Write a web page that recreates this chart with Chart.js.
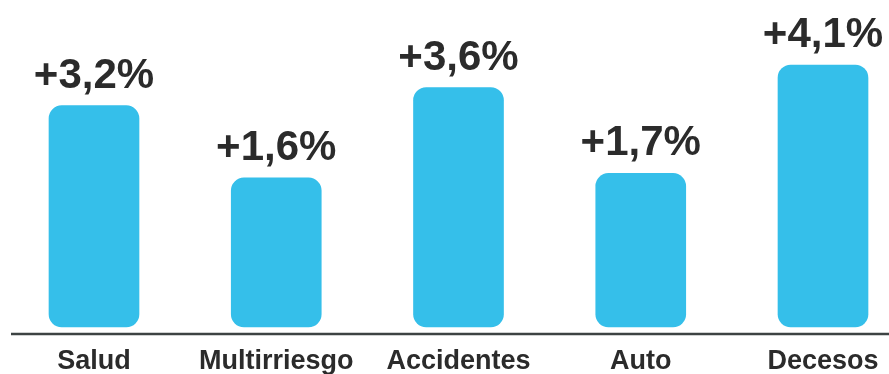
<!DOCTYPE html>
<html>
<head>
<meta charset="utf-8">
<script src="https://cdn.jsdelivr.net/npm/chart.js@4.4.1/dist/chart.umd.min.js"></script>
<style>
    html, body { margin: 0; padding: 0; background: #ffffff; }
    #wrap { width: 889px; height: 374px; position: relative; }
</style>
</head>
<body>
<div id="wrap"><canvas id="ramos"></canvas></div>
<script>
// Ramos y crecimiento de primas (%)
const categories = ['Salud', 'Multirriesgo', 'Accidentes', 'Auto', 'Decesos'];
const growth = [3.2, 1.6, 3.6, 1.7, 4.1];

const barColor = '#35bfea';
const textColor = '#2b2b2b';

// formato español: coma decimal y signo delante
function formatPct(v) {
    return '+' + v.toFixed(1).replace('.', ',') + '%';
}

// etiquetas de valor encima de cada barra
const valueLabels = {
    id: 'valueLabels',
    afterDatasetsDraw(chart) {
        const ctx = chart.ctx;
        const meta = chart.getDatasetMeta(0);
        ctx.save();
        ctx.font = 'bold 42px "Liberation Sans", Arial, sans-serif';
        ctx.fillStyle = textColor;
        ctx.textAlign = 'center';
        ctx.textBaseline = 'alphabetic';
        meta.data.forEach((bar, i) => {
            ctx.fillText(formatPct(growth[i]), bar.x, bar.y - 18);
        });
        ctx.restore();
    }
};

// línea base a todo lo ancho
const baseLine = {
    id: 'baseLine',
    afterDraw(chart) {
        const ctx = chart.ctx;
        const y = chart.chartArea.bottom + 7;
        ctx.save();
        ctx.strokeStyle = '#3d4343';
        ctx.lineWidth = 2.5;
        ctx.beginPath();
        ctx.moveTo(11, y);
        ctx.lineTo(chart.width, y);
        ctx.stroke();
        ctx.restore();
    }
};

const ctx = document.getElementById('ramos').getContext('2d');
new Chart(ctx, {
    type: 'bar',
    data: {
        labels: categories,
        datasets: [{
            data: growth,
            backgroundColor: barColor,
            borderRadius: 13,
            borderSkipped: false,
            barThickness: 90,
            base: -1.7,
            clip: false
        }]
    },
    options: {
        responsive: true,
        maintainAspectRatio: false,
        animation: false,
        layout: {
            padding: { left: 94, right: 66, top: 0, bottom: 0 }
        },
        plugins: {
            legend: { display: false },
            tooltip: { enabled: false }
        },
        scales: {
            x: {
                offset: false,
                grid: { display: false, drawTicks: false },
                border: { display: false },
                ticks: {
                    color: textColor,
                    padding: 18,
                    maxRotation: 0,
                    autoSkip: false,
                    font: { family: '"Liberation Sans", Arial, sans-serif', size: 27, weight: 'bold' }
                },
                afterFit(scale) {
                    // altura fija y sin relleno extra por las etiquetas de los extremos
                    scale.height = 47;
                    scale.paddingLeft = 0;
                    scale.paddingRight = 0;
                }
            },
            y: {
                display: false,
                min: -1.7,
                max: 5.54
            }
        }
    },
    plugins: [valueLabels, baseLine]
});
</script>
</body>
</html>
